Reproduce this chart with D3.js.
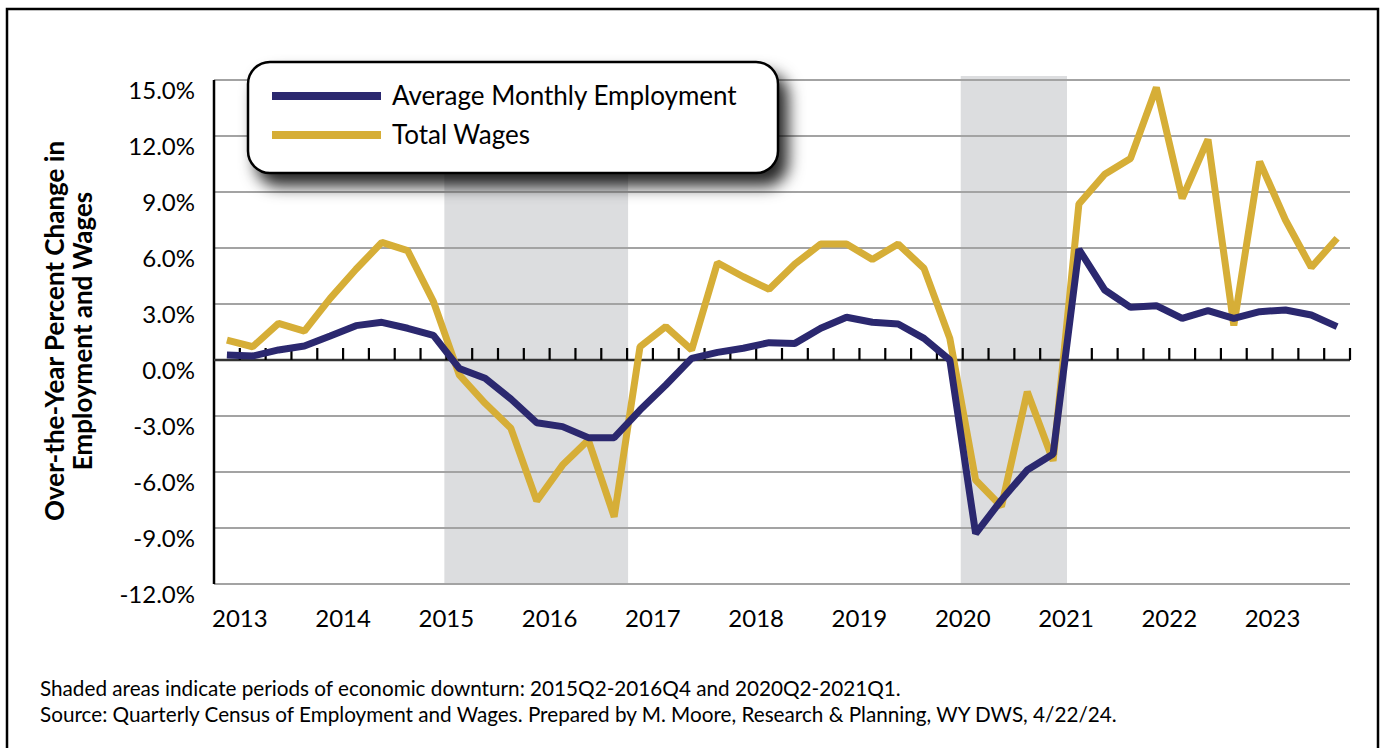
<!DOCTYPE html>
<html>
<head>
<meta charset="utf-8">
<script src="https://cdn.jsdelivr.net/npm/d3@7"></script>
<style>
  body { margin: 0; background: #fff; }
  svg text { font-family: Lato, "Open Sans", sans-serif; fill: #000; }
</style>
</head>
<body>
<div id="chart"></div>
<script>
// over-the-year % change, quarterly 2013Q1 - 2023Q4
const years = [2013, 2014, 2015, 2016, 2017, 2018, 2019, 2020, 2021, 2022, 2023];
const quarterNames = ["Q1", "Q2", "Q3", "Q4"];
const employment = [0.27, 0.21, 0.54, 0.75, 1.29, 1.84, 2.02, 1.70, 1.32, -0.45, -0.98, -2.09,
  -3.36, -3.57, -4.16, -4.16, -2.68, -1.34, 0.09, 0.41, 0.63, 0.93, 0.89, 1.70,
  2.29, 2.02, 1.93, 1.16, 0.0, -9.3, -7.5, -5.89, -5.04, 5.93, 3.75, 2.82,
  2.91, 2.23, 2.64, 2.23, 2.59, 2.68, 2.41, 1.79];
const wages = [1.07, 0.71, 1.96, 1.55, 3.3, 4.86, 6.3, 5.86, 3.13, -0.8, -2.32, -3.66,
  -7.55, -5.63, -4.29, -8.4, 0.71, 1.79, 0.54, 5.21, 4.46, 3.79, 5.14, 6.21,
  6.21, 5.39, 6.21, 4.91, 1.16, -6.43, -7.85, -1.7, -5.4, 8.36, 9.95, 10.8,
  14.6, 8.66, 11.82, 1.85, 10.63, 7.5, 4.96, 6.52];
const yTicks = [15, 12, 9, 6, 3, 0, -3, -6, -9, -12];
const downturns = [["2015Q2", "2016Q4"], ["2020Q2", "2021Q1"]];
const seriesNames = ["Average Monthly Employment", "Total Wages"];
const notes = [
  "Shaded areas indicate periods of economic downturn: 2015Q2-2016Q4 and 2020Q2-2021Q1.",
  "Source: Quarterly Census of Employment and Wages. Prepared by M. Moore, Research & Planning, WY DWS, 4/22/24."
];

const width = 1384, height = 748;
const plot = {left: 214, right: 1350, top: 80, bottom: 584};
const navy = "#2b286f", gold = "#d6ae37";

const quarters = years.flatMap(y => quarterNames.map(q => y + q));

const svg = d3.select("#chart").append("svg")
  .attr("width", width).attr("height", height);

const defs = svg.append("defs");
const shadow = defs.append("filter").attr("id", "shadow")
  .attr("x", "-10%").attr("y", "-20%").attr("width", "130%").attr("height", "170%");
shadow.append("feDropShadow")
  .attr("dx", 9).attr("dy", 12).attr("stdDeviation", 8)
  .attr("flood-color", "#000").attr("flood-opacity", 0.85);

// outer frame
svg.append("path")
  .attr("d", `M7,${height + 5} V9 H1378 V${height + 5}`)
  .attr("fill", "none").attr("stroke", "#000").attr("stroke-width", 2.5);

const x = d3.scaleBand().domain(quarters).range([plot.left, plot.right]).padding(0);
const y = d3.scaleLinear().domain([-12, 15]).range([plot.bottom, plot.top]);
const bw = x.bandwidth();
const cx = (d, i) => x(quarters[i]) + bw / 2;

// recession shading
svg.append("g").selectAll("rect").data(downturns).join("rect")
  .attr("x", d => x(d[0]) - 2)
  .attr("width", d => x(d[1]) + bw - x(d[0]) + 3)
  .attr("y", plot.top - 4)
  .attr("height", plot.bottom - plot.top + 4)
  .attr("fill", "#dcdddf");

// gridlines
svg.append("g").selectAll("line").data(yTicks.filter(t => t !== 0)).join("line")
  .attr("x1", plot.left).attr("x2", plot.right)
  .attr("y1", d => y(d)).attr("y2", d => y(d))
  .attr("stroke", "#a3a3a3").attr("stroke-width", 2);

// y tick labels
svg.append("g").selectAll("text").data(yTicks).join("text")
  .attr("x", 195).attr("y", d => y(d) + 19)
  .attr("text-anchor", "end")
  .attr("font-size", 24)
  .text(d => d3.format(".1f")(d).replace("\u2212", "-") + "%");

// left axis
svg.append("line")
  .attr("x1", plot.left).attr("x2", plot.left)
  .attr("y1", plot.top).attr("y2", plot.bottom)
  .attr("stroke", "#000").attr("stroke-width", 2.5);

// zero line with quarter ticks
svg.append("line")
  .attr("x1", plot.left).attr("x2", plot.right)
  .attr("y1", y(0)).attr("y2", y(0))
  .attr("stroke", "#333").attr("stroke-width", 2.5);
svg.append("g").selectAll("line").data(quarters.slice(1).concat(["end"])).join("line")
  .attr("x1", d => d === "end" ? plot.right : x(d))
  .attr("x2", d => d === "end" ? plot.right : x(d))
  .attr("y1", y(0)).attr("y2", y(0) - 12)
  .attr("stroke", "#000").attr("stroke-width", 2.2);

// year labels
svg.append("g").selectAll("text").data(years).join("text")
  .attr("x", d => x(d + "Q2"))
  .attr("y", 627)
  .attr("text-anchor", "middle")
  .attr("font-size", 24)
  .text(d => d);

// y axis title
const yTitle = svg.append("text")
  .attr("transform", "translate(0,331) rotate(-90)")
  .attr("text-anchor", "middle")
  .attr("font-size", 26).attr("font-weight", "bold");
yTitle.append("tspan").attr("x", 0).attr("y", 64).text("Over-the-Year Percent Change in");
yTitle.append("tspan").attr("x", 0).attr("y", 92).text("Employment and Wages");

// lines
const line = d3.line().x(cx).y(d => y(d));
[[wages, gold], [employment, navy]].forEach(([vals, col]) => {
  svg.append("path")
    .datum(vals)
    .attr("d", line)
    .attr("fill", "none")
    .attr("stroke", col)
    .attr("stroke-width", 7)
    .attr("stroke-linejoin", "bevel");
});

// legend
const legend = svg.append("g");
legend.append("rect")
  .attr("x", 248).attr("y", 62).attr("width", 530).attr("height", 111)
  .attr("rx", 22).attr("ry", 22)
  .attr("fill", "#fff").attr("stroke", "#000").attr("stroke-width", 2.5)
  .attr("filter", "url(#shadow)");
const items = legend.selectAll("g").data(seriesNames).join("g")
  .attr("transform", (d, i) => `translate(0,${[96, 135][i]})`);
items.append("line")
  .attr("x1", 272).attr("x2", 381)
  .attr("stroke", (d, i) => [navy, gold][i]).attr("stroke-width", 8);
items.append("text")
  .attr("x", 392).attr("y", 9)
  .attr("font-size", 26)
  .text(d => d);

// notes
svg.append("g").selectAll("text").data(notes).join("text")
  .attr("x", 40).attr("y", (d, i) => 696 + i * 26)
  .attr("font-size", 20.7)
  .text(d => d);
</script>
</body>
</html>
